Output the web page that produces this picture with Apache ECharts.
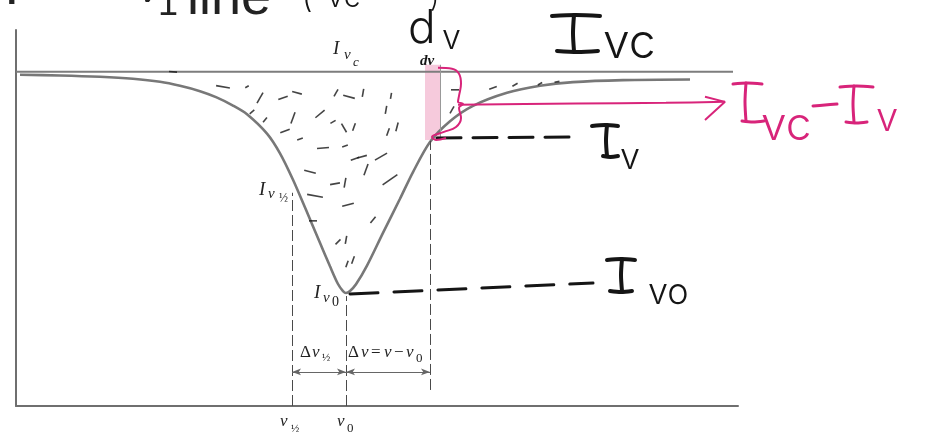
<!DOCTYPE html>
<html>
<head>
<meta charset="utf-8">
<script src="https://cdn.jsdelivr.net/npm/echarts@6/dist/echarts.min.js"></script>
<style>
  html, body { margin: 0; padding: 0; background: #fff; }
  #chart { width: 928px; height: 434px; }
</style>
</head>
<body>
<div id="chart"></div>
<script>
// absorption line profile, x = frequency offset from the left edge, I = intensity / continuum
const profileX = [4, 44, 84, 117, 144, 164, 184, 200, 217, 231, 251, 264, 277, 290, 303, 314, 322, 327, 330, 334, 340, 351, 367, 384, 397, 414, 434, 457, 491, 524, 557, 607, 674]
const profileI = [0.991, 0.989, 0.985, 0.979, 0.970, 0.958, 0.942, 0.924, 0.899, 0.873, 0.815, 0.756, 0.677, 0.587, 0.495, 0.418, 0.365, 0.344, 0.338, 0.344, 0.364, 0.420, 0.518, 0.620, 0.700, 0.790, 0.852, 0.898, 0.937, 0.958, 0.969, 0.975, 0.977]

// continuum level
const contX = [0, 717]
const contI = [1, 1]

// vertical frequency markers: ν½, ν0, ν
const markerNames = ['ν½', 'ν0', 'ν']
const markerX = [276, 330, 414]
const markerTop = [0.638, 0.329, 0.793]
const markerBottom = [0, 0, 0.048]
const dimLevel = 0.102

// dν strip
const stripX = [409, 424]
const stripI = [0.796, 1.021]

// handwritten guide lines
const ivDashX = [421, 557]
const ivDashI = [0.802, 0.805]
const iv0DashX = [334, 577]
const iv0DashI = [0.335, 0.368]
const braceX = [422, 436, 443, 445, 443, 442, 447, 443, 445, 440, 428, 416, 420, 430]
const braceI = [1.012, 1.009, 0.994, 0.964, 0.928, 0.910, 0.904, 0.892, 0.862, 0.835, 0.820, 0.805, 0.796, 0.802]
const arrowX = [442, 560, 650, 709]
const arrowI = [0.901, 0.905, 0.907, 0.910]
const headX = [689, 709, 689]
const headI = [0.925, 0.910, 0.856]

// pencil scribbles in the absorbed area: [x, I, length, angle]
const scribbles = [
  [207, 0.955, 14, -10], [231, 0.955, 4, 30], [244, 0.922, 12, 60], [267, 0.922, 10, 20],
  [281, 0.937, 10, -15], [320, 0.937, 8, 60], [333, 0.925, 12, -15], [236, 0.880, 6, 40],
  [249, 0.856, 6, 50], [277, 0.862, 12, 70], [269, 0.823, 10, 20], [304, 0.874, 12, 40],
  [317, 0.850, 6, 30], [328, 0.832, 10, -60], [338, 0.835, 8, 70], [284, 0.799, 6, 20],
  [307, 0.772, 12, 5], [329, 0.778, 6, 20], [339, 0.740, 9, 20], [294, 0.701, 12, -15],
  [319, 0.665, 10, 10], [329, 0.668, 10, 80], [299, 0.629, 16, -10], [332, 0.602, 12, 15],
  [297, 0.554, 8, 0], [322, 0.491, 7, 45], [330, 0.497, 8, 80], [331, 0.425, 7, 70],
  [347, 0.937, 8, 80], [375, 0.928, 6, 80], [370, 0.886, 8, 80], [372, 0.820, 8, 70],
  [381, 0.835, 9, 75], [346, 0.746, 10, 15], [365, 0.746, 14, 30], [350, 0.707, 12, 70],
  [374, 0.677, 18, 35], [357, 0.557, 8, 50], [337, 0.437, 8, 70], [477, 0.952, 8, 20],
  [499, 0.961, 6, 30], [524, 0.964, 5, 30], [541, 0.970, 5, 10], [439, 0.946, 8, 0],
  [436, 0.886, 8, 60], [157, 1.0, 8, -5]
]

const zip = (xs, ys) => xs.map((x, i) => [x, ys[i]])

const PINK = '#d8247a'
const INK = '#151515'
const SERIF = '"Liberation Serif", "DejaVu Serif", serif'
const HAND = 'Inter, "DejaVu Sans", sans-serif'

// text piece placed by its baseline
function txt (x, base, s, size, family, color, style, weight) {
  return {
    type: 'text',
    x: x,
    y: base - 0.34 * size,
    silent: true,
    style: {
      text: s,
      fill: color || '#222',
      font: (style || 'normal') + ' ' + (weight || 'normal') + ' ' + size + 'px ' + family,
      align: 'left',
      verticalAlign: 'middle'
    }
  }
}

// pen stroke
function stroke (pts, color, w) {
  return {
    type: 'polyline',
    silent: true,
    shape: { points: pts, smooth: 0.3 },
    style: { stroke: color, lineWidth: w || 3, fill: null, lineCap: 'round', lineJoin: 'round' }
  }
}

// handwritten capital I: top bar, stem, bottom bar
function handI (l, r, top, stemX, bl, br, bottom, color, w) {
  return [
    stroke([[l, top + 1], [(l + r) / 2, top], [r, top + 1]], color, w),
    stroke([[stemX, top], [stemX - 1, (top + bottom) / 2], [stemX, bottom]], color, w),
    stroke([[bl, bottom], [(bl + br) / 2, bottom + 1], [br, bottom]], color, w)
  ]
}

const labels = [
  // cut-off heading
  txt(4, 8, 'I', 56, '"Liberation Sans", sans-serif', '#222'),
  txt(138, 5, 'ν', 40, '"Liberation Sans", sans-serif', '#222'),
  txt(158, 17, '1', 36, '"Liberation Sans", sans-serif', '#222'),
  txt(187, 17, 'line', 54, '"Liberation Sans", sans-serif', '#222'),
  txt(302, 9, '(', 30, HAND, INK, 'normal', 300),
  txt(326, 8, 'νc', 30, HAND, INK, 'normal', 300),
  txt(430, 8, ')', 26, HAND, INK, 'normal', 300),
  // book labels
  txt(333, 55, 'I', 19, SERIF, '#222', 'italic'),
  txt(344, 60, 'ν', 15, SERIF, '#222', 'italic'),
  txt(353, 67, 'c', 13, SERIF, '#222', 'italic'),
  txt(420, 66, 'dν', 15, SERIF, INK, 'italic', 'bold'),
  txt(259, 196, 'I', 19, SERIF, '#222', 'italic'),
  txt(268, 199, 'ν', 15, SERIF, '#222', 'italic'),
  txt(279, 203, '½', 12, SERIF, '#222'),
  txt(314, 299, 'I', 19, SERIF, '#222', 'italic'),
  txt(323, 303, 'ν', 15, SERIF, '#222', 'italic'),
  txt(332, 307, '0', 14, SERIF, '#222'),
  txt(300, 358, 'Δ', 17, SERIF, '#222'),
  txt(312, 358, 'ν', 17, SERIF, '#222', 'italic'),
  txt(322, 362, '½', 11, SERIF, '#222'),
  txt(348, 358, 'Δ', 17, SERIF, '#222'),
  txt(361, 358, 'ν', 17, SERIF, '#222', 'italic'),
  txt(371, 358, '=', 17, SERIF, '#222'),
  txt(384, 358, 'ν', 17, SERIF, '#222', 'italic'),
  txt(394, 358, '−', 17, SERIF, '#222'),
  txt(406, 358, 'ν', 17, SERIF, '#222', 'italic'),
  txt(416, 363, '0', 13, SERIF, '#222'),
  txt(280, 427, 'ν', 17, SERIF, '#222', 'italic'),
  txt(291, 433, '½', 11, SERIF, '#222'),
  txt(337, 427, 'ν', 17, SERIF, '#222', 'italic'),
  txt(347, 433, '0', 13, SERIF, '#222'),
  // handwriting
  txt(408, 45, 'd', 46, HAND, INK, 'normal', 300),
  txt(442, 50, 'v', 34, HAND, INK, 'normal', 300),
  txt(603, 60, 'vc', 48, HAND, INK, 'normal', 300),
  txt(620, 170, 'v', 36, HAND, INK, 'normal', 300),
  txt(648, 305, 'vo', 36, HAND, INK, 'normal', 300),
  txt(761, 142, 'vc', 46, HAND, PINK, 'normal', 300),
  txt(876, 133, 'v', 40, HAND, PINK, 'normal', 300),
  stroke([[813, 106], [825, 105], [837, 104]], PINK, 3)
].concat(
  handI(552, 600, 15, 574, 557, 598, 51, INK, 4),
  handI(592, 618, 125, 607, 603, 618, 156, INK, 4),
  handI(607, 635, 259, 622, 610, 632, 291, INK, 4),
  handI(733, 762, 83, 746, 742, 764, 121, PINK, 3),
  handI(840, 873, 86, 854, 846, 867, 122, PINK, 3)
)

const myChart = echarts.init(document.getElementById('chart'), null, { renderer: 'canvas' })

const plain = (name, data, color, width, extra) => Object.assign({
  name: name,
  type: 'line',
  data: data,
  symbol: 'none',
  silent: true,
  lineStyle: { color: color, width: width },
  z: 3
}, extra || {})

const option = {
  animation: false,
  backgroundColor: '#fff',
  grid: { left: 16, right: 190, top: 30, bottom: 28 },
  xAxis: {
    type: 'value',
    min: 0,
    max: 722,
    axisLine: { show: true, onZero: true, lineStyle: { color: '#6f6f6f', width: 2 } },
    axisTick: { show: false },
    axisLabel: { show: false },
    splitLine: { show: false }
  },
  yAxis: {
    type: 'value',
    min: 0,
    max: 1.125,
    axisLine: { show: true, lineStyle: { color: '#6f6f6f', width: 2 } },
    axisTick: { show: false },
    axisLabel: { show: false },
    splitLine: { show: false }
  },
  series: [
    plain('continuum', zip(contX, contI), '#7d7d7d', 2, {
      markArea: {
        silent: true,
        itemStyle: { color: 'rgba(238,150,185,0.5)' },
        data: [[{ coord: [stripX[0], stripI[0]] }, { coord: [stripX[1], stripI[1]] }]]
      },
      markLine: {
        silent: true,
        symbol: 'none',
        label: { show: false },
        lineStyle: { color: '#4a4a4a', width: 1, type: [11, 4] },
        data: markerNames.map((n, i) => [
          { coord: [markerX[i], markerBottom[i]] },
          { coord: [markerX[i], markerTop[i]] }
        ]).concat([[
          { coord: [stripX[1], stripI[0]], lineStyle: { type: 'solid', color: '#999' } },
          { coord: [stripX[1], stripI[1]] }
        ]])
      }
    }),
    plain('profile', zip(profileX, profileI), '#787878', 2.6, {
      smooth: 0.3,
      markLine: {
        silent: true,
        symbol: ['arrow', 'arrow'],
        symbolSize: [5, 9],
        label: { show: false },
        lineStyle: { color: '#666', width: 1, type: 'solid' },
        data: [
          [{ coord: [markerX[0], dimLevel] }, { coord: [markerX[1], dimLevel] }],
          [{ coord: [markerX[1], dimLevel] }, { coord: [markerX[2], dimLevel] }]
        ]
      }
    }),
    plain('Iv guide', zip(ivDashX, ivDashI), INK, 3, { lineStyle: { color: INK, width: 3, type: [24, 12], cap: 'round' }, z: 5 }),
    plain('Iv0 guide', zip(iv0DashX, iv0DashI), INK, 3, { lineStyle: { color: INK, width: 3, type: [28, 16], cap: 'round' }, z: 5 }),
    plain('brace', zip(braceX, braceI), PINK, 2, { smooth: 0.4, z: 6 }),
    plain('arrow', zip(arrowX, arrowI), PINK, 2, { smooth: 0.3, z: 6 }),
    plain('arrow head', zip(headX, headI), PINK, 2, { z: 6 }),
    {
      name: 'scribbles',
      type: 'scatter',
      silent: true,
      symbol: 'rect',
      itemStyle: { color: INK },
      z: 4,
      data: scribbles.map(s => ({
        value: [s[0], s[1]],
        symbolSize: [s[2], 1.6],
        symbolRotate: s[3]
      }))
    }
  ],
  graphic: { elements: labels }
}

myChart.clear()
myChart.setOption(option)
window.addEventListener('resize', function () {
  myChart.resize()
})
</script>
</body>
</html>
